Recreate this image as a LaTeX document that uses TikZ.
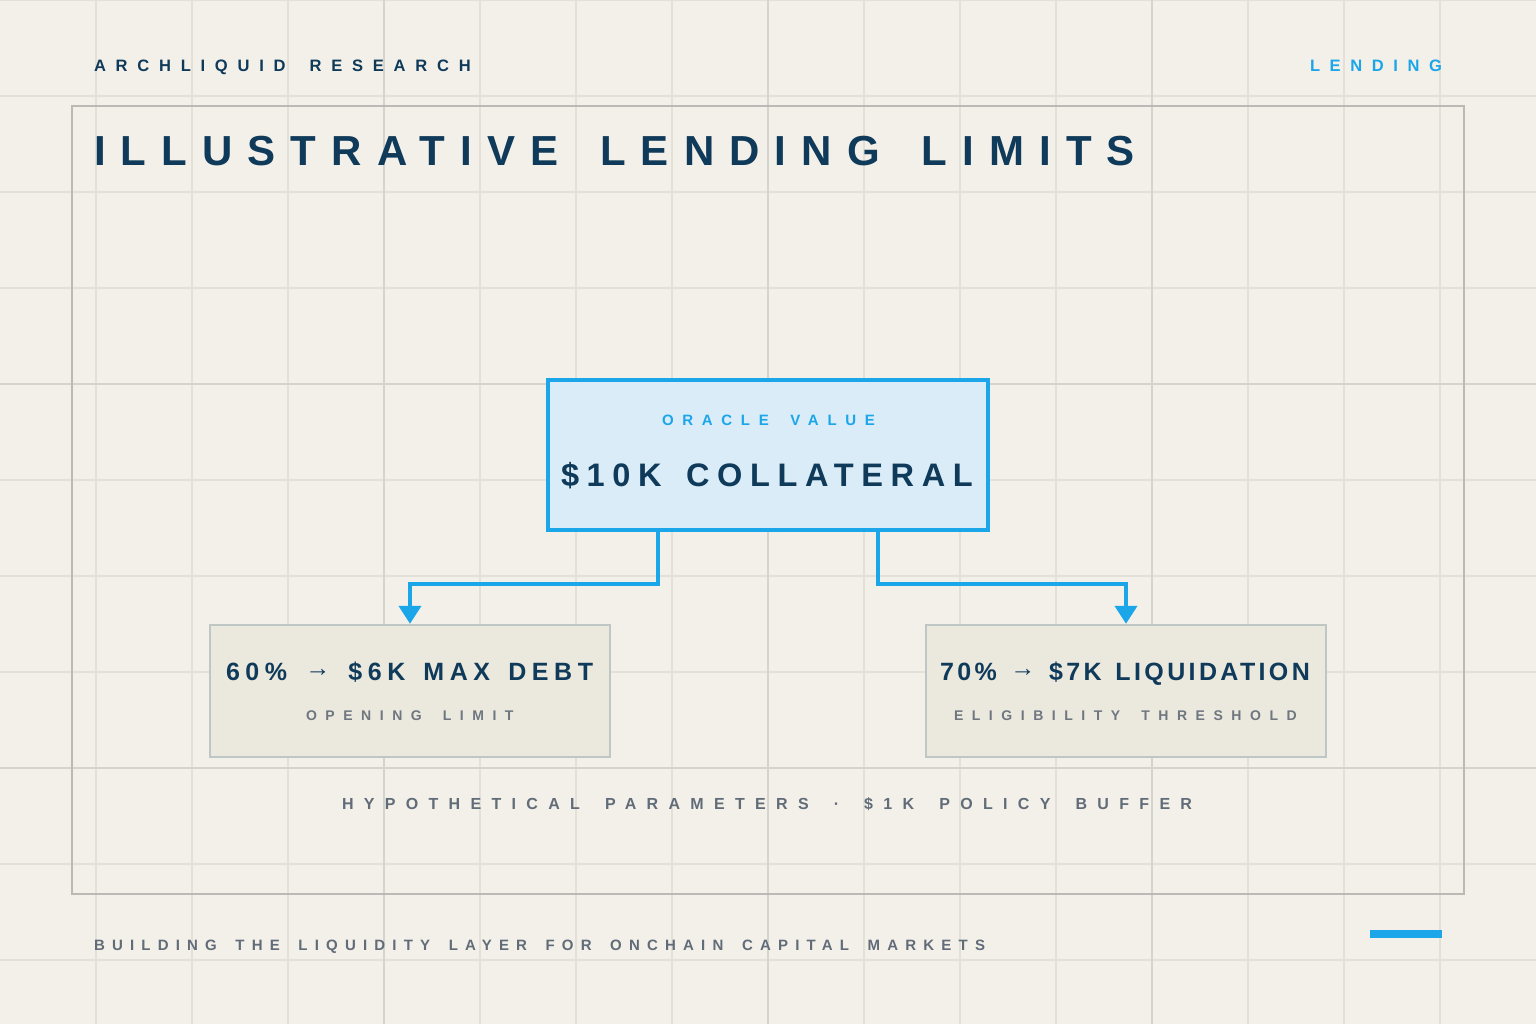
\documentclass[tikz,border=0pt]{standalone}
\usepackage{fontspec}
\setmainfont{Liberation Sans}
\usetikzlibrary{arrows.meta}
\definecolor{bg}{HTML}{F3F0E9}
\definecolor{gridminor}{HTML}{E3E0D8}
\definecolor{gridmajor}{HTML}{D5D3CD}
\definecolor{framec}{HTML}{BAB9B5}
\definecolor{navy}{HTML}{0F3A5A}
\definecolor{accent}{HTML}{1BA6EA}
\definecolor{topfill}{HTML}{D9ECF7}
\definecolor{lowfill}{HTML}{EBE8DD}
\definecolor{lowstroke}{HTML}{BFC7C6}
\definecolor{graytxt}{HTML}{616C78}
\definecolor{subgray}{HTML}{6E7680}
\newcommand{\wordgap}{0.3em}
\newcommand{\trk}[2]{\addfontfeature{LetterSpace=#1}\renewcommand{\wordgap}{#2em}}
\newcommand{\W}{\hspace{\wordgap}}
\newcommand{\fsz}[1]{\fontsize{#1}{#1}\selectfont}
\newcommand{\rarr}{\raisebox{2.5pt}{→}}
\begin{document}
\begin{tikzpicture}[x=0.75pt,y=-0.75pt,
  txt/.style={inner sep=0pt,outer sep=0pt,anchor=base west},
  gmin/.style={draw=gridminor,line width=0.8pt},
  gmaj/.style={draw=gridmajor,line width=1.1pt},
  topbox/.style={draw=accent,fill=topfill,line width=2.4pt,minimum width=330pt,minimum height=112.5pt,inner sep=0pt},
  lowbox/.style={draw=lowstroke,fill=lowfill,line width=1.8pt,minimum width=300pt,minimum height=99pt,inner sep=0pt},
  conn/.style={draw=accent,line width=3pt,-{Triangle[width=16.5pt,length=13.5pt]}}]
\fill[bg] (0,0) rectangle (1536,1024);
\useasboundingbox (0,0) rectangle (1536,1024);
% grid
\foreach \x in {96,192,...,1440} \draw[gmin] (\x,0) -- (\x,1024);
\foreach \y in {0,96,...,960} \draw[gmin] (0,\y) -- (1536,\y);
\foreach \x in {384,768,1152} \draw[gmaj] (\x,0) -- (\x,1024);
\foreach \y in {384,768} \draw[gmaj] (0,\y) -- (1536,\y);
% frame
\draw[framec,line width=1.1pt] (72,106) rectangle (1464,894);
% header
\node[txt,text=navy,font=\bfseries\fsz{12.4}\trk{59}{1.458}] (brand) at (94,72) {ARCHLIQUID\W RESEARCH};
\node[txt,text=accent,font=\bfseries\fsz{12.4}\trk{58}{1.438}] (tag) at (1310,72) {LENDING};
\node[txt,text=navy,font=\bfseries\fsz{31.5}\trk{36}{0.998}] (title) at (94,166) {ILLUSTRATIVE\W LENDING\W LIMITS};
% boxes
\node[topbox] (top) at (768,455) {};
\node[lowbox] (left) at (410,691) {};
\node[lowbox] (right) at (1126,691) {};
\node[txt,text=accent,font=\bfseries\fsz{11.25}\trk{58}{1.438}] (oracle) at (662,425) {ORACLE\W VALUE};
\node[txt,text=navy,font=\bfseries\fsz{24.4}\trk{23.5}{0.748}] (coll) at (561,486) {\$10K\W COLLATERAL};
\node[txt,text=navy,font=\bfseries\fsz{18.75}\trk{22.3}{0.724}] (maxdebt) at (226,680) {60\%\W\rarr\W\$6K\W MAX\W DEBT};
\node[txt,text=subgray,font=\bfseries\fsz{10.5}\trk{61}{1.498}] (open) at (306,720) {OPENING\W LIMIT};
\node[txt,text=navy,font=\bfseries\fsz{18.75}\trk{13.5}{0.548}] (liq) at (940,680) {70\%\W\rarr\W\$7K\W LIQUIDATION};
\node[txt,text=subgray,font=\bfseries\fsz{10.5}\trk{61}{1.498}] (elig) at (954,720) {ELIGIBILITY\W THRESHOLD};
% connectors
\coordinate (ltap) at (658,530);
\coordinate (rtap) at (878,530);
\draw[conn] (ltap) -- (658,584) -| (left.north);
\draw[conn] (rtap) -- (878,584) -| (right.north);
% notes
\node[txt,text=graytxt,font=\bfseries\fsz{12}\trk{64.5}{1.568}] (note) at (342,809) {HYPOTHETICAL\W PARAMETERS\W·\W\$1K\W POLICY\W BUFFER};
\node[txt,text=graytxt,font=\bfseries\fsz{11.25}\trk{48}{1.238}] (foot) at (94,950) {BUILDING\W THE\W LIQUIDITY\W LAYER\W FOR\W ONCHAIN\W CAPITAL\W MARKETS};
\fill[accent] (1370,930) rectangle (1442,938);
\end{tikzpicture}
\end{document}
